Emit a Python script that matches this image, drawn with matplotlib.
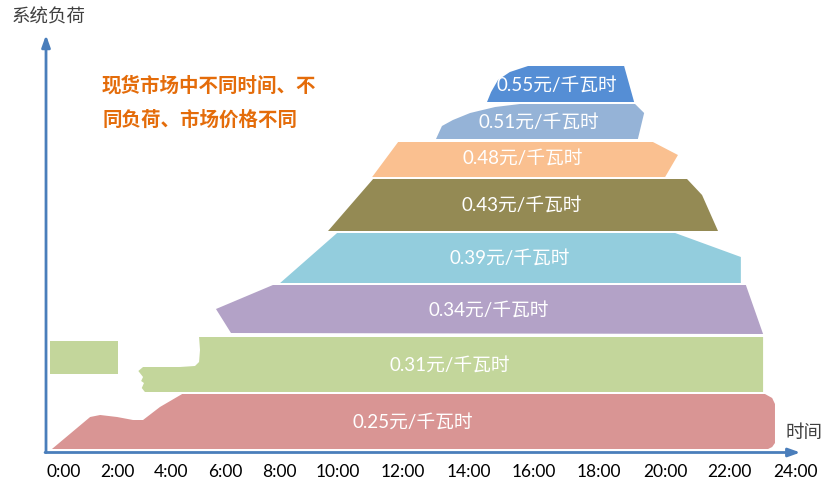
import matplotlib
matplotlib.use('Agg')
from matplotlib import pyplot as plt
from matplotlib.patches import Polygon

# time in hours, load in arbitrary units
# each price band is an outline (hour, load)
prices = ['0.25', '0.31', '0.34', '0.39', '0.43', '0.48', '0.51', '0.55']
band_colors = ['#D99594', '#C3D69B', '#B3A2C7', '#93CDDD',
               '#948A54', '#FAC090', '#95B3D7', '#558ED5']

band_red = [(0.19, 0.3), (1.41, 3.5), (1.73, 3.7), (2.27, 3.5), (2.78, 3.2),
            (3.10, 3.2), (3.64, 4.5), (4.35, 5.8), (22.97, 5.8), (23.20, 5.4),
            (23.29, 4.8), (23.29, 0.9), (23.20, 0.5), (23.07, 0.3)]
band_green = [(4.89, 11.5), (22.91, 11.5), (22.91, 6.0), (3.16, 6.0), (3.06, 6.4),
              (3.13, 6.9), (3.04, 7.1), (3.10, 7.5), (2.95, 8.1), (3.10, 8.5),
              (3.70, 8.5), (4.28, 8.5), (4.76, 8.6), (4.89, 9.0), (4.92, 10.2)]
band_purple = [(7.25, 16.7), (22.36, 16.7), (22.91, 11.8), (5.91, 11.9), (5.43, 14.3)]
band_cyan = [(9.30, 21.9), (20.10, 21.9), (22.20, 19.5), (22.20, 16.9), (7.48, 16.9)]
band_olive = [(10.45, 27.3), (20.48, 27.3), (20.96, 25.7), (21.47, 22.1), (9.01, 22.1)]
band_orange = [(11.25, 31.0), (19.39, 31.0), (20.19, 29.7), (19.78, 27.5), (10.42, 27.5)]
band_lightblue = [(15.14, 34.8), (18.82, 34.8), (19.11, 33.9), (18.91, 31.3), (12.46, 31.3),
                  (12.65, 32.6), (13.00, 33.2), (13.55, 33.9), (14.35, 34.5)]
band_darkblue = [(15.40, 38.6), (18.47, 38.6), (18.79, 35.0), (14.09, 35.0), (14.22, 36.0),
                 (14.44, 37.2), (14.82, 38.0)]
bands = [band_red, band_green, band_purple, band_cyan,
         band_olive, band_orange, band_lightblue, band_darkblue]

# where each price label sits
label_xy = [(11.73, 3.0), (12.90, 8.7), (14.15, 14.2), (14.82, 19.4),
            (15.21, 24.7), (15.24, 29.4), (15.75, 33.0), (16.33, 36.7)]

# the lone green block on the left
green_block = [(0.13, 7.8), (2.30, 7.8), (2.30, 11.1), (0.13, 11.1)]

tick_labels = ['0:00', '2:00', '4:00', '6:00', '8:00', '10:00', '12:00',
               '14:00', '16:00', '18:00', '20:00', '22:00', '24:00']
tick_pos = [0.58, 2.28, 3.99, 5.72, 7.44, 9.33, 11.41,
            13.51, 15.59, 17.67, 19.78, 21.85, 23.96]

fonts = ['Lato', 'Noto Sans CJK SC', 'DejaVu Sans']
cjk = ['Noto Sans CJK SC', 'DejaVu Sans']

fig = plt.figure(figsize=(8.31, 4.82), dpi=100)
ax = fig.add_axes([0, 0, 1, 1])
ax.set_xlim(-1.47, 25.08)
ax.set_ylim(-3.0, 45.2)
ax.axis('off')

for pts, col in zip(bands, band_colors):
    ax.add_patch(Polygon(pts, closed=True, facecolor=col, edgecolor='none'))
ax.add_patch(Polygon(green_block, closed=True, facecolor=band_colors[1], edgecolor='none'))

for p, (x, y) in zip(prices, label_xy):
    ax.text(x, y, p + '元/千瓦时', color='white', fontsize=13.5,
            ha='center', va='center', family=fonts)

# axes arrows
axis_col = '#4A7EBB'
ax.annotate('', xy=(0.0, 41.7), xytext=(0.0, -0.05),
            arrowprops=dict(arrowstyle='-|>,head_length=0.7,head_width=0.25',
                            color=axis_col, lw=2, shrinkA=0, shrinkB=0))
ax.annotate('', xy=(24.1, -0.05), xytext=(-0.03, -0.05),
            arrowprops=dict(arrowstyle='-|>,head_length=0.7,head_width=0.25',
                            color=axis_col, lw=2, shrinkA=0, shrinkB=0))

for t, x in zip(tick_labels, tick_pos):
    ax.text(x, -2.0, t, fontsize=12.5, ha='center', va='center',
            color='black', family=fonts)

ax.text(0.1, 43.4, '系统负荷', fontsize=13.3, color='#404040',
        ha='center', va='center', family=cjk)
ax.text(24.22, 1.9, '时间', fontsize=13.3, color='#404040',
        ha='center', va='center', family=cjk)

ax.text(1.79, 36.6, '现货市场中不同时间、不', fontsize=14, color='#E46C0A',
        ha='left', va='center', family=cjk, fontweight='bold')
ax.text(1.79, 33.2, '同负荷、市场价格不同', fontsize=14, color='#E46C0A',
        ha='left', va='center', family=cjk, fontweight='bold')

plt.savefig('out.png', dpi=100)
